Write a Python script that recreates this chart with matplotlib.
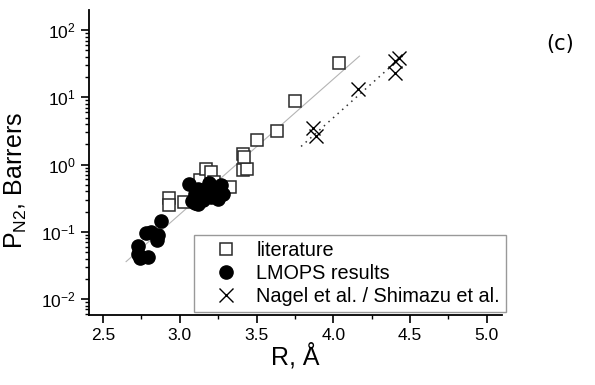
import numpy as np
import matplotlib.pyplot as plt
from matplotlib.ticker import MultipleLocator, LogLocator, NullFormatter

plt.rcParams['font.family'] = ['Liberation Sans', 'DejaVu Sans']
plt.rcParams['mathtext.fontset'] = 'custom'
plt.rcParams['mathtext.rm'] = 'Liberation Sans'
plt.rcParams['mathtext.it'] = 'Liberation Sans:italic'

# literature data (open squares)
lit_R = [2.93, 2.93, 3.03, 3.13, 3.17, 3.20, 3.22, 3.33, 3.41, 3.44,
         3.41, 3.42, 3.50, 3.63, 3.75, 4.04]
lit_P = [0.32, 0.25, 0.28, 0.58, 0.87, 0.77, 0.55, 0.47, 0.82, 0.85,
         1.45, 1.3, 2.3, 3.2, 8.7, 32]

# LMOPS results (filled circles)
lmops_R = [2.73, 2.73, 2.74, 2.79, 2.78, 2.81, 2.85, 2.86, 2.88,
           3.06, 3.08, 3.10, 3.10, 3.12, 3.12, 3.14, 3.15, 3.17,
           3.19, 3.20, 3.22, 3.25, 3.27, 3.28]
lmops_P = [0.062, 0.047, 0.041, 0.042, 0.095, 0.10, 0.075, 0.09, 0.145,
           0.52, 0.29, 0.37, 0.27, 0.26, 0.44, 0.42, 0.30, 0.38,
           0.54, 0.33, 0.45, 0.31, 0.50, 0.36]

# Nagel et al. / Shimazu et al. (crosses)
nag_R = [3.87, 3.89, 4.16, 4.40, 4.43, 4.40]
nag_P = [3.5, 2.7, 13.5, 35, 38, 23]

# fit lines (end points)
fit_lit_R = [2.65, 4.17]
fit_lit_P = [0.036, 41]
fit_nag_R = [3.79, 4.47]
fit_nag_P = [1.86, 45]

fig = plt.figure(figsize=(5.95, 3.85), dpi=100)
ax = fig.add_axes([0.150, 0.182, 0.694, 0.792])

ax.plot(fit_lit_R, fit_lit_P, color='#b4b4b4', lw=0.8, zorder=1)
ax.plot(fit_nag_R, fit_nag_P, color='#333333', lw=1.1, ls=(0, (1, 3)), zorder=1)

ax.plot(lit_R, lit_P, 's', ls='none', ms=9.3, mfc='white', mec='#2a2a2a',
        mew=1.1, label='literature', zorder=2)
ax.plot(lmops_R, lmops_P, 'o', ls='none', ms=9.5, color='black',
        label='LMOPS results', zorder=3)
ax.plot(nag_R, nag_P, 'x', ls='none', ms=10, color='black', mew=1.0,
        label='Nagel et al. / Shimazu et al.', zorder=3)

ax.set_yscale('log')
ax.set_xlim(2.41, 5.1)
ax.set_ylim(0.0058, 199)
ax.xaxis.set_major_locator(MultipleLocator(0.5))
ax.xaxis.set_minor_locator(MultipleLocator(0.25))
ax.yaxis.set_major_locator(LogLocator(base=10, numticks=10))
ax.yaxis.set_minor_locator(LogLocator(base=10, subs=np.arange(2, 10), numticks=20))
ax.yaxis.set_minor_formatter(NullFormatter())

for side in ['top', 'right']:
    ax.spines[side].set_visible(False)
for side in ['left', 'bottom']:
    ax.spines[side].set_linewidth(1.3)
ax.tick_params(which='major', direction='out', length=6, width=1.2, labelsize=12.5)
ax.tick_params(which='minor', direction='out', length=3, width=1.0)

ax.set_xlabel('R, Å', fontsize=18, labelpad=0)
ax.set_ylabel(r'P$_{\mathregular{N2}}$, Barrers', fontsize=18)
ax.yaxis.set_label_coords(-0.145, 0.44)

leg = ax.legend(loc='lower right', bbox_to_anchor=(506 / 595, 73 / 385),
                bbox_transform=fig.transFigure, borderaxespad=0, fontsize=14.3,
                frameon=True, fancybox=False, framealpha=1, edgecolor='#999999',
                handlelength=2.6, handletextpad=0.25, labelspacing=0.2,
                borderpad=0.3)
leg.get_frame().set_linewidth(1.0)

fig.text(0.965, 0.885, '(c)', fontsize=15, family='DejaVu Sans', ha='right', va='center')

fig.savefig('out.png', dpi=100)
